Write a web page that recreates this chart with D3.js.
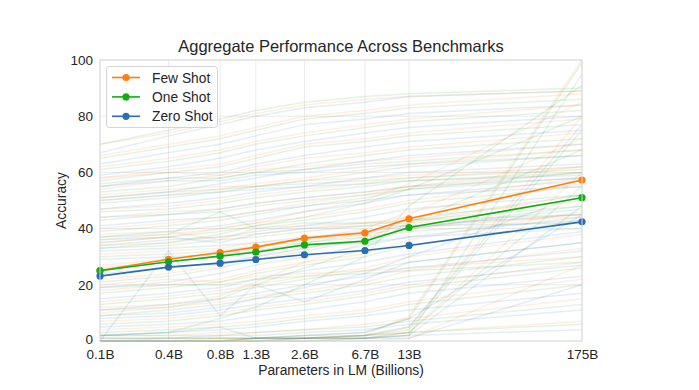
<!DOCTYPE html>
<html><head><meta charset="utf-8">
<script src="https://cdn.jsdelivr.net/npm/d3@7"></script>
<style>
body{margin:0;background:#fff;}
text{font-family:"Liberation Sans",Arial,sans-serif;fill:#262626;}
</style></head>
<body><svg id="c" width="699" height="390"></svg>
<script>
const params = [0.125, 0.35, 0.76, 1.3, 2.7, 6.7, 13, 175];
const tickLabels = ["0.1B","0.4B","0.8B","1.3B","2.6B","6.7B","13B","175B"];
const yTicks = [0,20,40,60,80,100];
const seriesNames = ["Few Shot","One Shot","Zero Shot"];
const fewShot  = [25.1, 29.1, 31.5, 33.4, 36.6, 38.5, 43.5, 57.3];
const oneShot  = [25.0, 28.2, 30.2, 31.6, 34.2, 35.5, 40.4, 51.0];
const zeroShot = [23.1, 26.3, 27.7, 29.0, 30.7, 32.2, 34.0, 42.4];

const fewBg = [
[70,74,78,81,84,86,87,89],[66,70,73,76,80,82,84,88],[62,65,68,71,74,77,79,84],
[58,61,63,66,70,72,74,79],[54,57,59,62,65,67,69,74],[50,52,54,56,58,61,63,68],
[47,48,50,52,54,56,58,62],[44,46,47,49,51,53,55,60],[40,42,44,46,49,52,55,62],
[36,38,40,42,44,47,50,58],[34,35,37,38,40,42,44,50],[31,32,33,35,36,38,40,45],
[27,29,31,33,36,40,46,56],[22,24,27,30,33,37,42,52],[18,20,22,25,28,31,36,46],
[14,16,18,20,23,26,30,38],[10,12,14,16,18,21,25,33],[7,8,10,12,14,17,20,28],
[4,5,6,7,9,11,14,22],[2,2,3,3,4,6,8,15],[1,1,1,1,2,2,3,7],
[0,0,1,1,1,2,9,100],[0,0,0,1,1,2,5,80],[0,0,0,0,1,1,3,60],[0,0,0,0,0,0,1,27],
[52,54,55,55,57,58,59,62],[58,60,59,61,62,64,65,70],[38,39,36,40,41,42,42,44],
[12,13,16,21,28,35,45,72],[35,37,40,42,46,50,56,85],[20,22,21,23,24,25,26,30]
];
const oneBg = [
[70,75,79,82,85,87,88,90],[65,69,72,75,79,81,83,86],[61,64,67,70,73,76,78,82],
[57,60,62,65,69,71,73,77],[53,55,58,60,63,66,68,72],[49,51,53,55,57,60,62,66],
[46,47,49,51,53,55,57,60],[43,45,46,48,50,52,54,58],[39,41,43,45,48,51,54,60],
[35,37,39,41,43,46,49,55],[33,34,36,37,39,41,43,48],[30,31,32,34,35,37,39,43],
[26,28,30,32,35,38,43,52],[21,23,26,29,32,36,40,48],[17,19,21,24,27,30,34,43],
[13,15,17,19,22,25,28,35],[9,11,13,15,17,20,23,30],[6,7,9,11,13,16,19,26],
[3,4,5,6,8,10,13,20],[2,2,2,3,4,5,7,13],[1,1,1,1,1,2,3,6],
[0,1,1,1,2,3,8,99],[0,0,0,1,1,2,4,75],[0,0,0,0,1,1,3,55],[0,0,0,0,0,1,2,95],
[51,53,54,55,56,57,58,61],[56,58,58,60,61,63,64,68],[37,38,46,40,42,42,43,45],
[11,12,15,20,26,33,42,68],[33,35,38,41,44,49,54,80],[19,20,20,22,23,24,25,28],
[2,3,8,12,20,30,48,91]
];
const zeroBg = [
[67,73,77,80,83,85,87,89],[63,67,70,73,77,79,81,84],[59,62,65,68,71,74,76,80],
[55,58,60,63,66,69,71,75],[51,53,56,58,61,64,66,70],[47,49,51,53,55,58,60,63],
[44,45,47,49,51,53,55,58],[41,43,44,46,48,50,52,55],[37,39,41,43,46,49,52,57],
[34,36,37,39,41,44,47,52],[32,33,34,35,37,39,41,45],[29,30,31,32,34,35,37,40],
[24,26,28,30,33,36,40,47],[19,21,24,27,30,34,37,44],[15,17,19,22,25,28,31,39],
[11,13,15,17,20,23,26,32],[8,9,11,13,15,18,21,27],[5,6,7,9,11,14,17,23],
[2,3,4,5,7,9,11,17],[1,1,2,2,3,4,6,11],[0,0,0,1,1,1,2,4],
[0,0,0,1,1,2,5,77],[0,0,0,0,1,1,2,48],[0,0,0,0,0,1,1,20],
[0,32,9,20,14,22,28,35],[50,52,53,54,55,56,57,59],[55,57,57,59,60,62,63,66],
[36,37,35,38,40,41,41,42],[2,3,5,1,2,3,8,45],[9,10,12,15,19,24,30,52]
];

const colors = ["#ff7f0e", "#12ad12", "#2a6db5"];
const bgColors = ["#ff7f0e", "#2ca02c", "#1f77b4"];

const svg = d3.select("#c");
const L = 100, R = 582, T = 60, B = 341;
const x = d3.scaleLog().domain([params[0], params[params.length-1]]).range([L, R]);
const y = d3.scaleLinear().domain([0, 100]).range([B, T]);

svg.append("g").selectAll("line.v").data(params).join("line")
  .attr("x1", d => x(d)).attr("x2", d => x(d)).attr("y1", T).attr("y2", B)
  .attr("stroke", "#ebebeb").attr("stroke-width", 1);
svg.append("g").selectAll("line.h").data(yTicks).join("line")
  .attr("x1", L).attr("x2", R).attr("y1", d => y(d)).attr("y2", d => y(d))
  .attr("stroke", "#ebebeb").attr("stroke-width", 1);

const line = d3.line().x((d, i) => x(params[i])).y(d => y(d));

const plot = svg.append("g");
[fewBg, oneBg, zeroBg].forEach((set, k) => {
  plot.append("g").selectAll("path").data(set).join("path")
    .attr("d", line).attr("fill", "none")
    .attr("stroke", bgColors[k]).attr("stroke-opacity", 0.12).attr("stroke-width", 1.5);
});

[fewShot, oneShot, zeroShot].forEach((s, k) => {
  const g = svg.append("g");
  g.append("path").datum(s).attr("d", line).attr("fill", "none")
    .attr("stroke", colors[k]).attr("stroke-width", 1.6);
  g.selectAll("circle").data(s).join("circle")
    .attr("cx", (d, i) => x(params[i])).attr("cy", d => y(d)).attr("r", 3.6)
    .attr("fill", colors[k]);
});

svg.append("rect").attr("x", L).attr("y", T).attr("width", R - L).attr("height", B - T)
  .attr("fill", "none").attr("stroke", "#d9d9d9").attr("stroke-width", 1);

const xAxis = d3.axisBottom(x).tickValues(params).tickFormat((d, i) => tickLabels[i]).tickSize(0).tickPadding(8);
const gx = svg.append("g").attr("transform", `translate(0,${B})`).call(xAxis);
gx.select(".domain").remove();
gx.selectAll("text").attr("font-size", "13.5px").attr("fill", "#262626");

const yAxis = d3.axisLeft(y).tickValues(yTicks).tickSize(0).tickPadding(7);
const gy = svg.append("g").attr("transform", `translate(${L},0)`).call(yAxis);
gy.select(".domain").remove();
gy.selectAll("text").attr("font-size", "13.5px").attr("fill", "#262626")
  .attr("dy", d => d === 0 ? "0.2em" : "0.32em");

svg.append("text").attr("x", (L + R) / 2).attr("y", 52).attr("text-anchor", "middle")
  .attr("font-size", "16.5px").text("Aggregate Performance Across Benchmarks");
svg.append("text").attr("x", (L + R) / 2).attr("y", 375).attr("text-anchor", "middle")
  .attr("font-size", "13.8px").text("Parameters in LM (Billions)");
svg.append("text").attr("transform", `translate(66,${(T + B) / 2}) rotate(-90)`)
  .attr("text-anchor", "middle").attr("font-size", "13.8px").text("Accuracy");

const lg = svg.append("g");
lg.append("rect").attr("x", 106.5).attr("y", 66.5).attr("width", 111).attr("height", 61)
  .attr("rx", 3).attr("fill", "#fff").attr("fill-opacity", 0.85).attr("stroke", "#d4d4d4");
seriesNames.forEach((n, k) => {
  const yy = 77.5 + k * 19.4;
  lg.append("line").attr("x1", 112).attr("x2", 140).attr("y1", yy).attr("y2", yy)
    .attr("stroke", colors[k]).attr("stroke-width", 1.6);
  lg.append("circle").attr("cx", 126).attr("cy", yy).attr("r", 3.6).attr("fill", colors[k]);
  lg.append("text").attr("x", 152).attr("y", yy + 5).attr("font-size", "13.8px").text(n);
});
</script></body></html>
